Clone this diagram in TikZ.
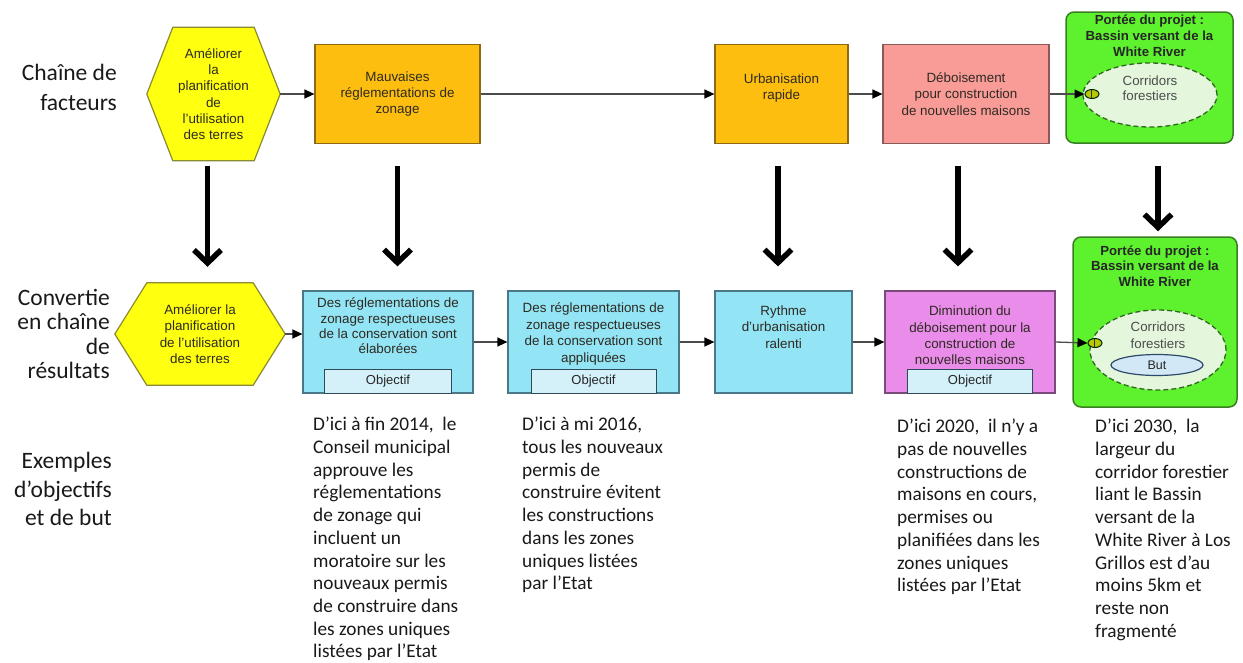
\documentclass[tikz,border=0pt]{standalone}
\usepackage{fontspec}
\setmainfont{Liberation Sans}
\newfontfamily\calibri{Carlito}
\usetikzlibrary{arrows.meta,calc,backgrounds,shapes.geometric}

\definecolor{hexfill}{HTML}{FFFF10}
\definecolor{hexline}{HTML}{8A8A30}
\definecolor{orfill}{HTML}{FDBE10}
\definecolor{orline}{HTML}{8C6A14}
\definecolor{salfill}{HTML}{F99C98}
\definecolor{salline}{HTML}{8A5A5A}
\definecolor{grfill}{HTML}{5EF22E}
\definecolor{grline}{HTML}{3A7E24}
\definecolor{elfill}{HTML}{E4F6DC}
\definecolor{elline}{HTML}{2E6A1E}
\definecolor{blfill}{HTML}{93E4F4}
\definecolor{blline}{HTML}{4A7888}
\definecolor{objfill}{HTML}{D4F0F8}
\definecolor{objline}{HTML}{2E4A58}
\definecolor{pkfill}{HTML}{EA8CEA}
\definecolor{pkline}{HTML}{7A4A7A}
\definecolor{butfill}{HTML}{D2E8F6}
\definecolor{butline}{HTML}{2E4A6A}
\definecolor{iconfill}{HTML}{B8C800}
\definecolor{boxtext}{HTML}{2E2A22}

\newcommand{\drawhex}[2]{% node name, horizontal inset of the slanted sides
  \begin{scope}[on background layer]
    \draw[hexshape] ($(#1.north west)+(#2,0pt)$) -- ($(#1.north east)+(-#2,0pt)$)
      -- (#1.east) -- ($(#1.south east)+(-#2,0pt)$) -- ($(#1.south west)+(#2,0pt)$)
      -- (#1.west) -- cycle;
  \end{scope}}

\tikzset{
  boxfont/.style={font=\fontsize{13.4}{16.3}\selectfont, text=boxtext, align=center},
  hexnode/.style={boxfont, inner sep=0pt},
  hexshape/.style={fill=hexfill, draw=hexline, line width=1.2pt},
  factor/.style={boxfont, rectangle, inner sep=0pt, line width=1.2pt},
  rectbox/.style={rectangle, inner sep=0pt, line width=1.2pt},
  intext/.style={boxfont, inner sep=0pt},
  objbox/.style={rectangle, fill=objfill, draw=objline, line width=1pt, inner sep=0pt,
    minimum height=24pt, font=\fontsize{13}{15}\selectfont, text=black!85},
  scopebox/.style={rectangle, rounded corners=8pt, fill=grfill, draw=grline, line width=1.5pt},
  scopetitle/.style={font=\bfseries\fontsize{13.2}{15.8}\selectfont, text=black!85, align=center, inner sep=0pt},
  target/.style={ellipse, fill=elfill, draw=elline, dashed, dash pattern=on 5pt off 3pt, line width=1.3pt, inner sep=0pt},
  targettext/.style={font=\fontsize{13.3}{15.5}\selectfont, text=black!70, align=center, inner sep=0pt},
  icon/.style={ellipse, fill=iconfill, draw=black!85!green, line width=1pt, minimum width=14pt, minimum height=9pt, inner sep=0pt,
    path picture={\draw[line width=0.7pt, black!80] ([xshift=-1pt]path picture bounding box.north) -- ([xshift=-1pt]path picture bounding box.south);}},
  butbox/.style={ellipse, fill=butfill, draw=butline, line width=1.2pt, minimum width=92pt, minimum height=21pt, inner sep=0pt,
    font=\fontsize{12.5}{14}\selectfont, text=black!85},
  conn/.style={draw=black!70, line width=1.3pt, -{Triangle[length=10pt,width=9pt,color=black]}},
  bigarrow/.style={draw=black, line width=5.5pt, -{Straight Barb[length=13pt,width=27pt]}},
  rowlabel/.style={font=\calibri\fontsize{23.5}{30}\selectfont, align=right, anchor=east, inner sep=0pt, text=black!90},
  example/.style={font=\calibri\fontsize{19.3}{22.7}\selectfont, align=left, anchor=north west, inner sep=0pt, text=black!90}
}

\begin{document}
\begin{tikzpicture}[x=1pt,y=-1pt]
\useasboundingbox (0,0) rectangle (1243,662);

% ---------- row labels ----------
\node[rowlabel] (lab1) at (117,87) {Chaîne de\\facteurs};
\node[rowlabel, font=\calibri\fontsize{23.5}{24.5}\selectfont] (lab2) at (110,334) {Convertie\\en chaîne\\de\\résultats};
\node[rowlabel, font=\calibri\fontsize{23.5}{28.5}\selectfont] (lab3) at (112,489) {Exemples\\d’objectifs\\et de but};

% ---------- chain of factors ----------
\node[hexnode, minimum width=133pt, minimum height=133pt] (t1) at (213.5,94)
  {Améliorer\\la\\planification\\de\\l'utilisation\\des terres};
\drawhex{t1}{26pt}

\node[factor, fill=orfill, draw=orline, minimum width=165pt, minimum height=99pt] (t2) at (397.5,94)
  {Mauvaises\\réglementations de\\zonage};
\node[factor, fill=orfill, draw=orline, minimum width=133pt, minimum height=99pt] (t3) at (781.5,94) {};
\node[intext] (t3t) at (781.5,88) {Urbanisation\\rapide};
\node[factor, fill=salfill, draw=salline, minimum width=166pt, minimum height=99pt] (t4) at (966,94)
  {Déboisement\\pour construction\\de nouvelles maisons};

\node[scopebox, minimum width=167pt, minimum height=131pt] (t5) at (1149.5,77.5) {};
\node[scopetitle] (t5title) at (1149.5,36) {Portée du projet :\\Bassin versant de la\\White River};
\node[target, minimum width=134pt, minimum height=64pt] (t5e) at (1150,95) {};
\node[targettext] (t5etext) at (1150,88) {Corridors\\forestiers};
\node[icon] (t5i) at (1092,94) {};

\draw[conn] (t1.east) -- (t2.west);
\draw[conn] (t2.east) -- (t3.west);
\draw[conn] (t3.east) -- (t4.west);
\draw[conn] (t4.east) -- (t5i.west);

% ---------- chain of results ----------
\node[hexnode, minimum width=170pt, minimum height=102pt] (b1) at (200,334)
  {Améliorer la\\planification\\de l'utilisation\\des terres};
\drawhex{b1}{32pt}

\node[rectbox, fill=blfill, draw=blline, minimum width=170pt, minimum height=102pt] (b2) at (388,342) {};
\node[intext, font=\fontsize{13.4}{15.3}\selectfont] (b2t) at (388,326)
  {Des réglementations de\\zonage respectueuses\\de la conservation sont\\élaborées};
\node[objbox, minimum width=127pt, anchor=south] (b2o) at (b2.south) {Objectif};

\node[rectbox, fill=blfill, draw=blline, minimum width=171pt, minimum height=102pt] (b3) at (593.5,342) {};
\node[intext, font=\fontsize{13.4}{16.8}\selectfont] (b3t) at (593.5,334)
  {Des réglementations de\\zonage respectueuses\\de la conservation sont\\appliquées};
\node[objbox, minimum width=125pt, anchor=south] (b3o) at (b3.south) {Objectif};

\node[rectbox, fill=blfill, draw=blline, minimum width=137pt, minimum height=102pt] (b4) at (783.5,342) {};
\node[intext] (b4t) at (783.5,327) {Rythme\\d'urbanisation\\ralenti};

\node[rectbox, fill=pkfill, draw=pkline, minimum width=170pt, minimum height=102pt] (b5) at (970,342) {};
\node[intext] (b5t) at (970,335.5) {Diminution du\\déboisement pour la\\construction de\\nouvelles maisons};
\node[objbox, minimum width=125pt, anchor=south] (b5o) at (b5.south) {Objectif};

\node[scopebox, minimum width=164pt, minimum height=170pt] (b6) at (1155,322) {};
\node[scopetitle, font=\bfseries\fontsize{13.2}{15.5}\selectfont] (b6title) at (1155,266) {Portée du projet :\\Bassin versant de la\\White River};
\node[target, minimum width=136pt, minimum height=80pt] (b6e) at (1158,350) {};
\node[targettext, font=\fontsize{13.3}{17}\selectfont] (b6etext) at (1158,335) {Corridors\\forestiers};
\node[butbox] (b6but) at (1157,365) {But};
\node[icon] (b6i) at (1095,343) {};

\draw[conn] (b1.east) -- (b1.east -| b2.west);
\draw[conn] (b2.east) -- (b3.west);
\draw[conn] (b3.east) -- (b4.west);
\draw[conn] (b4.east) -- (b5.west);
\draw[conn] (b5.east) -- (b6i.west);

% ---------- conversion arrows ----------
\coordinate (a1s) at ([xshift=-6pt]t1.south);
\coordinate (a1e) at (a1s |- b1.north);
\draw[bigarrow, shorten <=5pt, shorten >=16pt] (a1s) -- (a1e);

\coordinate (a2s) at (t2.south);
\coordinate (a2e) at (a2s |- b2.north);
\draw[bigarrow, shorten <=22pt, shorten >=24pt] (a2s) -- (a2e);

\coordinate (a3s) at ([xshift=-3.5pt]t3.south);
\coordinate (a3e) at (a3s |- b4.north);
\draw[bigarrow, shorten <=22pt, shorten >=24pt] (a3s) -- (a3e);

\coordinate (a4s) at ([xshift=-8pt]t4.south);
\coordinate (a4e) at (a4s |- b5.north);
\draw[bigarrow, shorten <=22pt, shorten >=24pt] (a4s) -- (a4e);

\coordinate (a5s) at ([xshift=8.5pt]t5.south);
\coordinate (a5e) at (a5s |- b6.north);
\draw[bigarrow, shorten <=22pt, shorten >=5pt] (a5s) -- (a5e);

% ---------- examples of objectives and goal ----------
\node[example] (e1) at (313,417) {D’ici à fin 2014,\ \ le\\Conseil municipal\\approuve les\\réglementations\\de zonage qui\\incluent un\\moratoire sur les\\nouveaux permis\\de construire dans\\les zones uniques\\listées par l’Etat};
\node[example] (e2) at (522,417) {D’ici à mi 2016,\\tous les nouveaux\\permis de\\construire évitent\\les constructions\\dans les zones\\uniques listées\\par l’Etat};
\node[example] (e3) at (897,419) {D’ici 2020,\ \ il n’y a\\pas de nouvelles\\constructions de\\maisons en cours,\\permises ou\\planifiées dans les\\zones uniques\\listées par l’Etat};
\node[example] (e4) at (1095,419) {D’ici 2030,\ \ la\\largeur du\\corridor forestier\\liant le Bassin\\versant de la\\White River à Los\\Grillos est d’au\\moins 5km et\\reste non\\fragmenté};
\end{tikzpicture}
\end{document}
